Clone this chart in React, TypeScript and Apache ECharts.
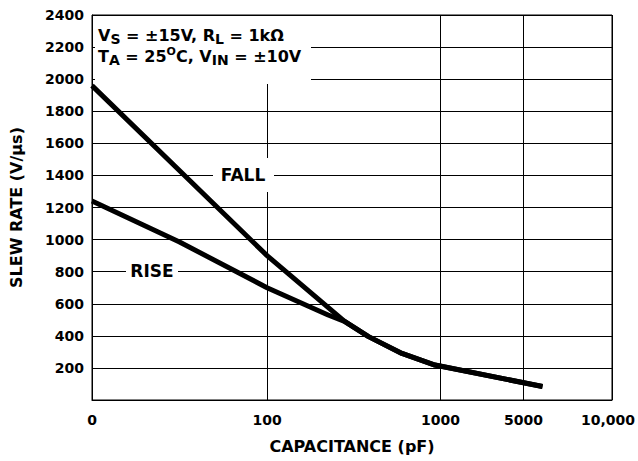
import React, { useEffect, useRef } from "react";
import * as echarts from "echarts";

// x axis: tick values (pF) and their labels
const xTickValues = [0, 100, 1000, 5000, 10000];
const xTickLabels = ["0", "100", "1000", "5000", "10,000"];
// relative placement of those ticks on the (non-uniform) printed axis
const xTickPlaces = [0, 1.01, 2.01, 2.49, 3];

// y axis
const yMin = 0;
const yMax = 2400;
const yStep = 200;

// FALL series: capacitance (pF) vs slew rate (V/µs)
const fallCap = [0, 100, 280, 385, 600, 930, 5800];
const fallRate = [1960, 900, 490, 395, 290, 218, 84];

// RISE series
const riseCap = [0, 50, 100, 225, 280, 385, 600, 930, 5800];
const riseRate = [1240, 985, 700, 530, 490, 395, 290, 218, 84];

const FONT = "DejaVu Sans";

// map capacitance onto the printed axis (linear 0..100, logarithmic between later ticks)
function capToAxis(c: number): number {
  for (let i = 0; i < xTickValues.length - 1; i++) {
    const v0 = xTickValues[i];
    const v1 = xTickValues[i + 1];
    if (c <= v1 || i === xTickValues.length - 2) {
      const t = v0 === 0 ? c / v1 : Math.log(c / v0) / Math.log(v1 / v0);
      return xTickPlaces[i] + t * (xTickPlaces[i + 1] - xTickPlaces[i]);
    }
  }
  return 0;
}

function toPoints(caps: number[], rates: number[]) {
  return caps.map((c, i) => [capToAxis(c), rates[i]]);
}

export default function App() {
  const ref = useRef<HTMLDivElement>(null);

  useEffect(() => {
    if (!ref.current) return;
    const chart = echarts.init(ref.current, undefined, { renderer: "svg" });
    const black = "#000";
    const labelFor = (v: number) => {
      const idx = xTickPlaces.findIndex((p) => Math.abs(p - v) < 1e-6);
      if (idx < 0) return "";
      return idx === xTickPlaces.length - 1 ? "{r|" + xTickLabels[idx] + "}" : xTickLabels[idx];
    };
    const mainStyle = {
      fontSize: 16,
      fontWeight: "bold",
      fontFamily: FONT,
      color: black,
      lineHeight: 21,
      verticalAlign: "middle",
    };
    const subStyle = {
      fontSize: 14,
      fontWeight: "bold",
      fontFamily: FONT,
      color: black,
      lineHeight: 11,
      verticalAlign: "bottom",
    };
    const supStyle = {
      fontSize: 11,
      fontWeight: "bold",
      fontFamily: FONT,
      color: black,
      lineHeight: 14,
      verticalAlign: "top",
    };
    const tickFont = { fontSize: 14, fontWeight: "bold", fontFamily: FONT, color: black };

    chart.setOption({
      animation: false,
      backgroundColor: "#fff",
      grid: {
        left: 92,
        right: 26,
        top: 15,
        bottom: 61,
        show: true,
        borderColor: black,
        borderWidth: 1,
        containLabel: false,
      },
      xAxis: {
        type: "value",
        min: xTickPlaces[0],
        max: xTickPlaces[xTickPlaces.length - 1],
        name: "CAPACITANCE (pF)",
        nameLocation: "middle",
        nameGap: 38,
        nameTextStyle: { fontSize: 16, fontWeight: "bold", fontFamily: FONT, color: black },
        axisLine: { show: true, lineStyle: { color: black, width: 1 } },
        axisTick: { show: false, customValues: xTickPlaces },
        axisLabel: {
          customValues: xTickPlaces,
          formatter: (v: number) => labelFor(v),
          ...tickFont,
          margin: 13,
          rich: { r: { ...tickFont, padding: [0, 8, 0, 0] } },
        },
        splitLine: { show: true, lineStyle: { color: black, width: 1 } },
      },
      yAxis: {
        type: "value",
        min: yMin,
        max: yMax,
        interval: yStep,
        name: "SLEW RATE (V/μs)",
        nameLocation: "middle",
        nameGap: 68,
        nameTextStyle: { fontSize: 16, fontWeight: "bold", fontFamily: FONT, color: black },
        axisLine: { show: true, lineStyle: { color: black, width: 1 } },
        axisTick: { show: false },
        axisLabel: {
          formatter: (v: number) => (v === 0 ? "" : String(v)),
          ...tickFont,
          margin: 8,
        },
        splitLine: { show: true, lineStyle: { color: black, width: 1 } },
      },
      graphic: [
        { type: "rect", z: 1, shape: { x: 95, y: 16, width: 216, height: 68 }, style: { fill: "#fff" } },
        { type: "rect", z: 1, shape: { x: 213, y: 158, width: 61, height: 34 }, style: { fill: "#fff" } },
        { type: "rect", z: 1, shape: { x: 126, y: 255, width: 52, height: 34 }, style: { fill: "#fff" } },
        {
          type: "text",
          z: 5,
          x: 98,
          y: 25,
          style: {
            text:
              "{m|V}{s|S}{m| = ±15V, R}{s|L}{m| = 1kΩ}\n" +
              "{m|T}{s|A}{m| = 25}{o|O}{m|C, V}{s|IN}{m| = ±10V}",
            verticalAlign: "top",
            align: "left",
            rich: { m: mainStyle, s: subStyle, o: supStyle },
          },
        },
        {
          type: "text",
          z: 5,
          x: 243,
          y: 175,
          style: {
            text: "FALL",
            align: "center",
            verticalAlign: "middle",
            fontSize: 17,
            fontWeight: "bold",
            fontFamily: FONT,
            fill: black,
          },
        },
        {
          type: "text",
          z: 5,
          x: 152,
          y: 271,
          style: {
            text: "RISE",
            align: "center",
            verticalAlign: "middle",
            fontSize: 17,
            fontWeight: "bold",
            fontFamily: FONT,
            fill: black,
          },
        },
      ],
      series: [
        {
          name: "FALL",
          type: "line",
          z: 3,
          data: toPoints(fallCap, fallRate),
          showSymbol: false,
          symbol: "none",
          lineStyle: { color: black, width: 5, join: "round" },
        },
        {
          name: "RISE",
          type: "line",
          z: 3,
          data: toPoints(riseCap, riseRate),
          showSymbol: false,
          symbol: "none",
          lineStyle: { color: black, width: 5, join: "round" },
        },
      ],
    });
    return () => chart.dispose();
  }, []);

  return <div ref={ref} style={{ width: 638, height: 461, position: "absolute", left: 0, top: 0 }} />;
}
